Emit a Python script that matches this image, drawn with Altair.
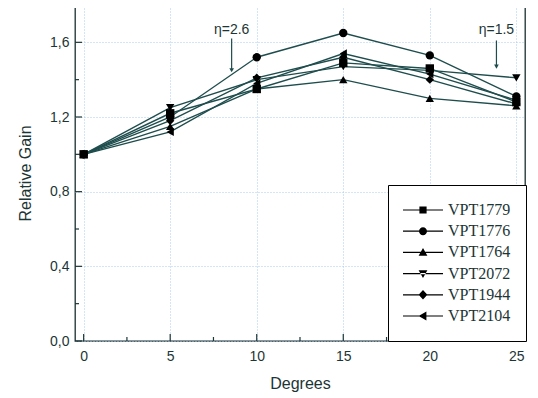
import altair as alt
import pandas as pd

degrees = [0, 5, 10, 15, 20, 25]
series_names = ["VPT1779", "VPT1776", "VPT1764", "VPT2072", "VPT1944", "VPT2104"]
vpt1779 = [1.00, 1.22, 1.35, 1.49, 1.46, 1.28]
vpt1776 = [1.00, 1.20, 1.52, 1.65, 1.53, 1.31]
vpt1764 = [1.00, 1.15, 1.35, 1.40, 1.30, 1.26]
vpt2072 = [1.00, 1.25, 1.40, 1.47, 1.45, 1.41]
vpt1944 = [1.00, 1.18, 1.41, 1.52, 1.40, 1.27]
vpt2104 = [1.00, 1.12, 1.38, 1.54, 1.43, 1.29]
all_values = [vpt1779, vpt1776, vpt1764, vpt2072, vpt1944, vpt2104]

x_major = [0, 5, 10, 15, 20, 25]
x_minor = [2.5, 7.5, 12.5, 17.5, 22.5]
y_major = [0.0, 0.4, 0.8, 1.2, 1.6]
y_minor = [0.2, 0.6, 1.0, 1.4]

ann_text = ["η=2.6", "η=1.5"]
ann_x = [8.55, 23.85]
ann_text_y = [1.665, 1.665]
ann_arrow_top = [1.62, 1.61]
ann_arrow_tip = [1.45, 1.47]

rows = []
for name, vals in zip(series_names, all_values):
    for d, v in zip(degrees, vals):
        rows.append({"x": d, "y": v, "series": name})
df = pd.DataFrame(rows)

W, H = 450, 336
LINE = "#1f4d4d"
TXT = "#1c3535"

xs = alt.Scale(domain=[-0.5, 25.5], nice=False, zero=False)
ys = alt.Scale(domain=[0, 1.8], nice=False, zero=False)

marker_shapes = ["square", "circle", "triangle-up", "triangle-down", "diamond", "triangle-left"]
legend_paths = [
    "M-1,-0.03H1V0.03H-1Z M-0.18,-0.18H0.18V0.18H-0.18Z",
    "M-1,-0.03H1V0.03H-1Z M0.2,0A0.2,0.2,0,1,1,-0.2,0A0.2,0.2,0,1,1,0.2,0Z",
    "M-1,-0.03H1V0.03H-1Z M0,-0.22L0.22,0.17L-0.22,0.17Z",
    "M-1,-0.03H1V0.03H-1Z M0,0.22L0.22,-0.17L-0.22,-0.17Z",
    "M-1,-0.03H1V0.03H-1Z M0,-0.24L0.22,0L0,0.24L-0.22,0Z",
    "M-1,-0.03H1V0.03H-1Z M-0.22,0L0.17,-0.22L0.17,0.22Z",
]

lbl_expr = "replace(format(datum.value, '.1f'), '.', ',')"

base = alt.Chart(df)

lines = base.mark_line(color=LINE, strokeWidth=1.4).encode(
    x=alt.X("x:Q", scale=xs, title="Degrees",
            axis=alt.Axis(values=x_major, grid=True, ticks=False, domain=False,
                          labelPadding=8, titlePadding=12)),
    y=alt.Y("y:Q", scale=ys, title="Relative Gain",
            axis=alt.Axis(values=y_major, grid=True, ticks=False, domain=False,
                          labelPadding=6, titlePadding=16, labelExpr=lbl_expr)),
    detail="series:N",
)

points = base.mark_point(filled=True, color="black", opacity=1, size=70).encode(
    x=alt.X("x:Q", scale=xs),
    y=alt.Y("y:Q", scale=ys),
    shape=alt.Shape("series:N", scale=alt.Scale(domain=series_names, range=marker_shapes), legend=None),
)

legend_layer = base.mark_point(filled=True, color="black", opacity=1, size=1600).encode(
    x=alt.value(-2000),
    y=alt.value(-2000),
    shape=alt.Shape("series:N", scale=alt.Scale(domain=series_names, range=legend_paths),
                    legend=alt.Legend(title=None, orient="none", legendX=313, legendY=180,
                                      strokeColor="black", fillColor="white", padding=15,
                                      rowPadding=1.2, clipHeight=20, symbolSize=1600,
                                      symbolOpacity=1, symbolFillColor="black",
                                      symbolStrokeWidth=0, labelFont="Liberation Serif",
                                      labelFontSize=16, labelColor=TXT, labelOffset=5)),
)

xt_major = alt.Chart(pd.DataFrame({"x": x_major})).mark_rule(color=TXT, strokeWidth=1.2).encode(
    x=alt.X("x:Q", scale=xs), y=alt.value(H), y2=alt.value(H - 7))
xt_minor = alt.Chart(pd.DataFrame({"x": x_minor})).mark_rule(color=TXT, strokeWidth=1.2).encode(
    x=alt.X("x:Q", scale=xs), y=alt.value(H), y2=alt.value(H - 4))
yt_major = alt.Chart(pd.DataFrame({"y": y_major})).mark_rule(color=TXT, strokeWidth=1.2).encode(
    y=alt.Y("y:Q", scale=ys), x=alt.value(0), x2=alt.value(7))
yt_minor = alt.Chart(pd.DataFrame({"y": y_minor})).mark_rule(color=TXT, strokeWidth=1.2).encode(
    y=alt.Y("y:Q", scale=ys), x=alt.value(0), x2=alt.value(4))

ann_df = pd.DataFrame({"x": ann_x, "ty": ann_text_y, "y": ann_arrow_top,
                       "y2": ann_arrow_tip, "label": ann_text})
ann_text_layer = alt.Chart(ann_df).mark_text(font="Liberation Sans", fontSize=14, color=TXT).encode(
    x=alt.X("x:Q", scale=xs), y=alt.Y("ty:Q", scale=ys), text="label:N")
ann_rule = alt.Chart(ann_df).mark_rule(color=LINE, strokeWidth=1.2).encode(
    x=alt.X("x:Q", scale=xs), y=alt.Y("y:Q", scale=ys), y2="y2:Q")
ann_head = alt.Chart(ann_df).mark_point(shape="triangle-down", filled=True, color=LINE,
                                        opacity=1, size=22).encode(
    x=alt.X("x:Q", scale=xs), y=alt.Y("y2:Q", scale=ys))

chart = alt.layer(
    lines, points, legend_layer, xt_major, xt_minor, yt_major, yt_minor,
    ann_rule, ann_head, ann_text_layer
).resolve_scale(shape="independent").properties(
    width=W, height=H,
    autosize=alt.AutoSizeParams(type="none"),
    padding={"left": 67, "top": -3, "right": 5, "bottom": 54},
).configure_view(
    stroke="#1a2e2e", strokeWidth=1.3
).configure_axis(
    gridColor="#a9c8f2", gridDash=[1, 2], gridWidth=1,
    labelFont="Liberation Sans", labelFontSize=14, labelColor=TXT,
    titleFont="Liberation Sans", titleFontSize=16, titleColor=TXT, titleFontWeight="normal",
)

chart.save("out.html", embed_options={"renderer": "svg", "actions": False})
